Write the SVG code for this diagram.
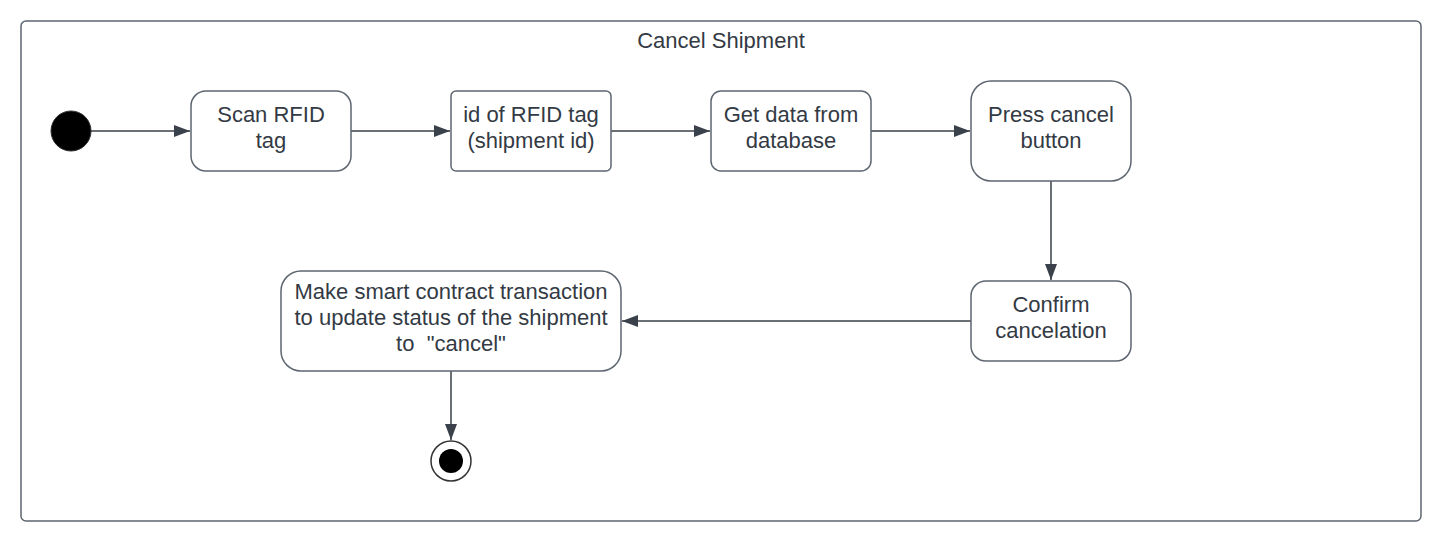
<svg xmlns="http://www.w3.org/2000/svg" width="1441" height="541" viewBox="0 0 1441 541">
<style>
.frame{fill:#fff;stroke:#5e6670;stroke-width:1.5}
.node{fill:#fff;stroke:#5e6670;stroke-width:1.5}
.t{font-family:"Liberation Sans",Arial,sans-serif;font-size:22px;fill:#333a44;text-anchor:middle}
.c{stroke:#3a414a;stroke-width:1.5;fill:none}
</style>
<defs>
<marker id="ah" markerWidth="16" markerHeight="12" refX="16" refY="6" orient="auto" markerUnits="userSpaceOnUse">
<path d="M0,0 L16,6 L0,12 Z" fill="#3a414a"/>
</marker>
</defs>
<rect width="1441" height="541" fill="#fff"/>
<g id="frame">
<rect class="frame" x="21" y="21" width="1400" height="500" rx="5"/>
<text class="t" x="721" y="48">Cancel Shipment</text>
</g>
<g id="connectors">
<line class="c" x1="91" y1="131" x2="190" y2="131" marker-end="url(#ah)"/>
<line class="c" x1="351" y1="131" x2="450" y2="131" marker-end="url(#ah)"/>
<line class="c" x1="611" y1="131" x2="710" y2="131" marker-end="url(#ah)"/>
<line class="c" x1="871" y1="131" x2="970" y2="131" marker-end="url(#ah)"/>
<line class="c" x1="1051" y1="181" x2="1051" y2="280" marker-end="url(#ah)"/>
<line class="c" x1="971" y1="321" x2="622" y2="321" marker-end="url(#ah)"/>
<line class="c" x1="451" y1="371" x2="451" y2="440" marker-end="url(#ah)"/>
</g>
<g id="start">
<circle cx="71" cy="131" r="20" fill="#000" stroke="#333" stroke-width="1"/>
</g>
<g id="scan">
<rect class="node" x="191" y="91" width="160" height="80" rx="15"/>
<text class="t" x="271" y="122">Scan RFID</text>
<text class="t" x="271" y="148">tag</text>
</g>
<g id="idtag">
<rect class="node" x="451" y="91" width="160" height="80" rx="5"/>
<text class="t" x="531" y="122">id of RFID tag</text>
<text class="t" x="531" y="148">(shipment id)</text>
</g>
<g id="getdata">
<rect class="node" x="711" y="91" width="160" height="80" rx="10"/>
<text class="t" x="791" y="122">Get data from</text>
<text class="t" x="791" y="148">database</text>
</g>
<g id="press">
<rect class="node" x="971" y="81" width="160" height="100" rx="20"/>
<text class="t" x="1051" y="122">Press cancel</text>
<text class="t" x="1051" y="148">button</text>
</g>
<g id="confirm">
<rect class="node" x="971" y="281" width="160" height="80" rx="15"/>
<text class="t" x="1051" y="312">Confirm</text>
<text class="t" x="1051" y="338">cancelation</text>
</g>
<g id="smart">
<rect class="node" x="281" y="271" width="340" height="100" rx="20"/>
<text class="t" x="451" y="299">Make smart contract transaction</text>
<text class="t" x="451" y="325">to update status of the shipment</text>
<text class="t" x="451" y="351" xml:space="preserve">to  "cancel"</text>
</g>
<g id="end">
<circle cx="451" cy="461" r="20" fill="#fff" stroke="#333" stroke-width="1.5"/>
<circle cx="451" cy="461" r="12" fill="#000"/>
</g>
</svg>
